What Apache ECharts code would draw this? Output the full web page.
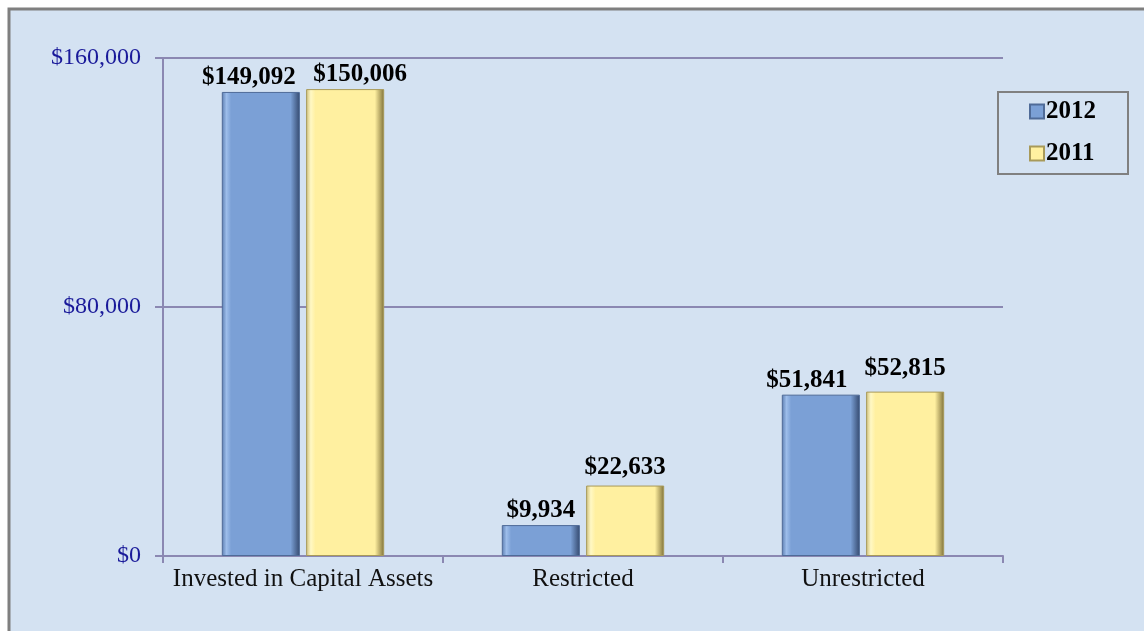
<!DOCTYPE html>
<html>
<head>
<meta charset="utf-8">
<script src="https://cdn.jsdelivr.net/npm/echarts@6/dist/echarts.min.js"></script>
<style>
  html, body { margin: 0; padding: 0; background: #fff; }
  #main { width: 1144px; height: 631px; }
</style>
</head>
<body>
<div id="main"></div>
<script>
const categories = ['Invested in Capital Assets', 'Restricted', 'Unrestricted'];
const values2012 = [149092, 9934, 51841];
const values2011 = [150006, 22633, 52815];
const yTicks = [0, 80000, 160000];

const serif = '"Liberation Serif", "DejaVu Serif", serif';
const money = v => '$' + v.toLocaleString('en-US');

// label nudges, Excel pushed a few labels apart
const nudge2012 = [[-12, 0], [0, 0], [-14, 0]];
const nudge2011 = [[15, 0], [0, -4], [0, -9]];

function barFill (edge, light, mid, dark) {
  return new echarts.graphic.LinearGradient(0, 0, 1, 0, [
    { offset: 0, color: edge },
    { offset: 0.06, color: light },
    { offset: 0.12, color: mid },
    { offset: 0.88, color: mid },
    { offset: 1, color: dark }
  ]);
}

function withNudge (vals, nudge) {
  return vals.map((v, i) => ({ value: v, label: { offset: nudge[i] } }));
}

const labelStyle = {
  show: true, position: 'top', distance: 2,
  fontFamily: serif, fontWeight: 'bold', fontSize: 25, color: '#000',
  formatter: p => money(p.value)
};

const chart = echarts.init(document.getElementById('main'));
chart.setOption({
  backgroundColor: '#ffffff',
  animation: false,
  graphic: [
    {
      type: 'rect',
      z: -10,
      shape: { x: 9, y: 9, width: 1150, height: 640 },
      style: { fill: '#D4E2F2', stroke: '#7F7F7F', lineWidth: 3 }
    }
  ],
  grid: { left: 163, right: 141, top: 58, bottom: 75 },
  legend: {
    orient: 'vertical',
    left: 998,
    top: 92,
    padding: [7, 32, 8, 31],
    itemGap: 17,
    itemWidth: 14,
    itemHeight: 14,
    borderColor: '#808080',
    borderWidth: 2,
    icon: 'rect',
    textStyle: { fontFamily: serif, fontWeight: 'bold', fontSize: 25, lineHeight: 25, color: '#000', padding: [0, 0, 0, -3] },
    data: ['2012', '2011']
  },
  xAxis: {
    type: 'category',
    data: categories,
    axisLine: { lineStyle: { color: '#8B88B2', width: 2 } },
    axisTick: { show: true, length: 7, lineStyle: { color: '#8B88B2', width: 2 } },
    axisLabel: { interval: 0, fontFamily: serif, fontSize: 25, color: '#111', margin: 11 }
  },
  yAxis: {
    type: 'value',
    min: 0,
    max: 160000,
    interval: 80000,
    axisLine: { show: true, lineStyle: { color: '#8B88B2', width: 2 } },
    axisTick: { show: true, length: 8, lineStyle: { color: '#8B88B2', width: 2 } },
    splitLine: { lineStyle: { color: '#8B88B2', width: 2 } },
    axisLabel: {
      fontFamily: serif, fontSize: 24, color: '#1A1A9A', margin: 22,
      formatter: v => yTicks.includes(v) ? money(v) : ''
    }
  },
  series: [
    {
      name: '2012',
      type: 'bar',
      data: withNudge(values2012, nudge2012),
      barGap: '8%',
      barCategoryGap: '42%',
      itemStyle: {
        color: barFill('#5A7CB0', '#9DBDEA', '#7BA0D6', '#34496E'),
        borderColor: '#4F6B98',
        borderWidth: 1
      },
      label: labelStyle
    },
    {
      name: '2011',
      type: 'bar',
      data: withNudge(values2011, nudge2011),
      itemStyle: {
        color: barFill('#CDBE7A', '#FFF8C4', '#FFF0A0', '#7E7038'),
        borderColor: '#A89A5A',
        borderWidth: 1
      },
      label: labelStyle
    }
  ]
});
</script>
</body>
</html>
